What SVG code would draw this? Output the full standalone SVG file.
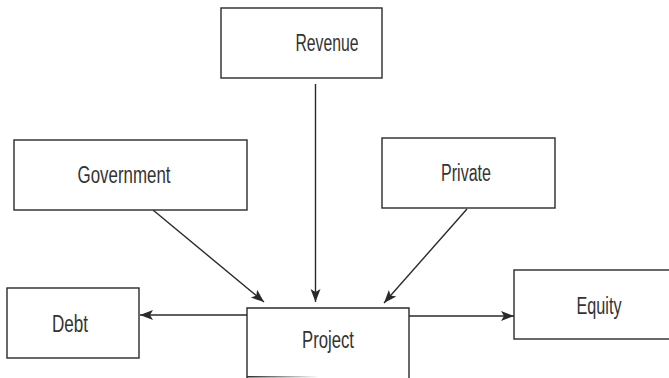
<svg xmlns="http://www.w3.org/2000/svg" width="669" height="378" viewBox="0 0 669 378">
<defs>
<style>
.box{fill:#fff;stroke:#2a2a2a;stroke-width:1.4}
.lbl{font-family:"Liberation Sans",Arial,sans-serif;font-size:23px;fill:#333;text-anchor:middle}
.conn{stroke:#2a2a2a;stroke-width:1.4;fill:none;marker-end:url(#ah)}
</style>
<marker id="ah" markerUnits="userSpaceOnUse" markerWidth="14" markerHeight="12" viewBox="0 0 14 12" refX="13" refY="6" orient="auto">
<path d="M0,1 L13,6 L0,11 L3,6 z" fill="#2a2a2a"/>
</marker>
<linearGradient id="fade" x1="0" y1="0" x2="1" y2="0">
<stop offset="0" stop-color="#2a2a2a"/>
<stop offset="1" stop-color="#2a2a2a" stop-opacity="0"/>
</linearGradient>
</defs>
<rect width="669" height="378" fill="#fff"/>
<g id="connectors">
<line class="conn" x1="315.5" y1="84" x2="315.5" y2="302"/>
<line class="conn" x1="153" y1="210" x2="264" y2="302"/>
<line class="conn" x1="467" y1="209" x2="384" y2="303"/>
<line class="conn" x1="247" y1="315" x2="140" y2="315"/>
<line class="conn" x1="409" y1="316" x2="514" y2="316"/>
</g>
<g id="revenue">
<rect class="box" x="221" y="8" width="161" height="70"/>
<text class="lbl" x="327" y="51" textLength="63" lengthAdjust="spacingAndGlyphs">Revenue</text>
</g>
<g id="government">
<rect class="box" x="14" y="140" width="233" height="70"/>
<text class="lbl" x="124" y="183" textLength="93" lengthAdjust="spacingAndGlyphs">Government</text>
</g>
<g id="private">
<rect class="box" x="382" y="138" width="173" height="70"/>
<text class="lbl" x="466" y="181" textLength="50" lengthAdjust="spacingAndGlyphs">Private</text>
</g>
<g id="debt">
<rect class="box" x="7" y="288" width="132" height="70"/>
<text class="lbl" x="70" y="332" textLength="36" lengthAdjust="spacingAndGlyphs">Debt</text>
</g>
<g id="project">
<path d="M247,378 V308 H409 V378" fill="#fff" stroke="#2a2a2a" stroke-width="1.4"/>
<rect x="247" y="376" width="72" height="1.5" fill="url(#fade)"/>
<text class="lbl" x="328" y="348" textLength="52" lengthAdjust="spacingAndGlyphs">Project</text>
</g>
<g id="equity">
<rect class="box" x="514" y="270" width="170" height="69"/>
<text class="lbl" x="599" y="314" textLength="45" lengthAdjust="spacingAndGlyphs">Equity</text>
</g>
</svg>
